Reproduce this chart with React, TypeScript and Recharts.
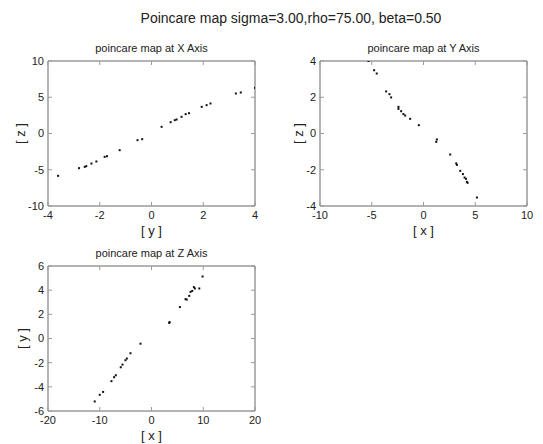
import React from 'react';
import { ScatterChart, Scatter, XAxis, YAxis, Label, ReferenceArea } from 'recharts';

const MAIN_TITLE = 'Poincare map sigma=3.00,rho=75.00, beta=0.50';

// poincare map at X Axis: y (horizontal) vs z (vertical)
const xMapY = [-3.61, -2.80, -2.58, -2.52, -2.32, -2.13, -1.81, -1.72, -1.23, -0.54, -0.36, 0.39, 0.74, 0.90, 0.97, 1.16, 1.32, 1.45, 1.94, 2.13, 2.28, 3.26, 3.45, 4.0];
const xMapZ = [-5.84, -4.78, -4.6, -4.5, -4.14, -3.86, -3.22, -3.13, -2.30, -0.92, -0.78, 0.92, 1.56, 1.84, 1.93, 2.30, 2.67, 2.80, 3.68, 3.91, 4.14, 5.52, 5.66, 6.3];

// poincare map at Y Axis: x (horizontal) vs z (vertical)
const yMapX = [-5.32, -4.77, -4.52, -3.61, -3.29, -3.13, -2.42, -2.42, -2.16, -1.94, -1.77, -1.29, -0.45, 1.29, 1.23, 2.58, 3.16, 3.23, 3.55, 3.81, 3.97, 4.10, 4.19, 4.26, 5.16];
const yMapZ = [4.0, 3.49, 3.31, 2.32, 2.17, 1.99, 1.47, 1.36, 1.23, 1.07, 0.99, 0.81, 0.46, -0.33, -0.46, -1.16, -1.65, -1.73, -2.06, -2.24, -2.43, -2.50, -2.67, -2.72, -3.53];

// poincare map at Z Axis: x (horizontal) vs y (vertical)
const zMapX = [-10.97, -10.0, -9.35, -7.74, -7.23, -6.90, -5.94, -5.61, -5.03, -4.77, -4.06, -2.13, 3.42, 3.50, 5.48, 6.58, 6.80, 7.29, 7.55, 7.87, 8.19, 8.39, 9.23, 9.87];
const zMapY = [-5.21, -4.66, -4.42, -3.53, -3.20, -3.04, -2.38, -2.16, -1.80, -1.66, -1.22, -0.43, 1.29, 1.36, 2.60, 3.26, 3.22, 3.53, 3.86, 3.94, 4.25, 4.14, 4.14, 5.13];

const ticksX1 = [-4, -2, 0, 2, 4];
const ticksY1 = [-10, -5, 0, 5, 10];
const ticksX2 = [-10, -5, 0, 5, 10];
const ticksY2 = [-4, -2, 0, 2, 4];
const ticksX3 = [-20, -10, 0, 10, 20];
const ticksY3 = [-6, -4, -2, 0, 2, 4, 6];

const BOX = '#9a9a9a';
const TEXT = '#222';

const Dot = (props: any) => {
  const { cx, cy } = props;
  if (cx == null || cy == null) return null;
  return <rect x={cx - 1} y={cy - 1} width={2} height={2} fill="#111" />;
};

const XLabel = ({ viewBox, value, dy }: any) => {
  const vb = viewBox || {};
  return (
    <text x={vb.x + vb.width / 2} y={vb.y + dy} textAnchor="middle" dominantBaseline="central" fontSize={13} fill={TEXT}>
      {value}
    </text>
  );
};

const YLabel = ({ viewBox, value, cx }: any) => {
  const vb = viewBox || {};
  const y = vb.y + vb.height / 2;
  return (
    <text x={cx} y={y} textAnchor="middle" dominantBaseline="central" fontSize={13} fill={TEXT} transform={`rotate(-90 ${cx} ${y})`}>
      {value}
    </text>
  );
};

const blank = () => '';

function Subplot({ left, top, width, height, yAxisWidth, rightMargin, xAxisHeight, title, xLabel, yLabel, xs, ys, xTicks, yTicks, yLabelX }: any) {
  const data = xs.map((x: number, i: number) => ({ x, y: ys[i] }));
  const xDomain = [xTicks[0], xTicks[xTicks.length - 1]];
  const yDomain = [yTicks[0], yTicks[yTicks.length - 1]];
  const tickStyle = { fontSize: 11, fill: TEXT };
  return (
    <div style={{ position: 'absolute', left, top, width, height }}>
      <div style={{ position: 'absolute', left: yAxisWidth, width: width - yAxisWidth - rightMargin, top: 2, textAlign: 'center', fontSize: 11, color: TEXT }}>
        {title}
      </div>
      <ScatterChart width={width} height={height} margin={{ top: 20, right: rightMargin - 1, left: 0, bottom: 0 }}>
        <XAxis xAxisId="b" type="number" dataKey="x" domain={xDomain} ticks={xTicks} allowDataOverflow height={xAxisHeight}
          stroke={BOX} tickSize={-4} tickMargin={9} tick={tickStyle} interval={0}>
          <Label content={<XLabel value={xLabel} dy={24} />} />
        </XAxis>
        <XAxis xAxisId="t" orientation="top" type="number" dataKey="x" domain={xDomain} ticks={xTicks} allowDataOverflow height={1}
          stroke={BOX} tickSize={-4} tickFormatter={blank} interval={0} />
        <YAxis yAxisId="l" type="number" dataKey="y" domain={yDomain} ticks={yTicks} allowDataOverflow width={yAxisWidth}
          stroke={BOX} tickSize={-4} tickMargin={8} tick={tickStyle} interval={0}>
          <Label content={<YLabel value={yLabel} cx={yLabelX} />} />
        </YAxis>
        <YAxis yAxisId="r" orientation="right" type="number" dataKey="y" domain={yDomain} ticks={yTicks} allowDataOverflow width={1}
          stroke={BOX} tickSize={-4} tickFormatter={blank} interval={0} />
        <ReferenceArea xAxisId="b" yAxisId="l" x1={xDomain[0]} x2={xDomain[1]} y1={yDomain[0]} y2={yDomain[1]}
          fill="none" stroke={BOX} strokeOpacity={1} fillOpacity={0} />
        <Scatter xAxisId="b" yAxisId="l" data={data} shape={<Dot />} isAnimationActive={false} />
        <Scatter xAxisId="t" yAxisId="r" data={data} shape={() => null} isAnimationActive={false} />
      </ScatterChart>
    </div>
  );
}

export default function App() {
  return (
    <div style={{ position: 'absolute', left: 0, top: 0, width: 543, height: 444, background: '#fff', overflow: 'hidden', fontFamily: '"Liberation Sans", Arial, sans-serif' }}>
      <div style={{ position: 'absolute', left: 0, top: 10, width: 582, textAlign: 'center', fontSize: 14, color: TEXT }}>
        {MAIN_TITLE}
      </div>
      <Subplot left={0} top={40} width={270} height={200} yAxisWidth={48} rightMargin={15} xAxisHeight={34}
        title="poincare map at X Axis" xLabel="[ y ]" yLabel="[ z ]" xs={xMapY} ys={xMapZ}
        xTicks={ticksX1} yTicks={ticksY1} yLabelX={20} />
      <Subplot left={270} top={40} width={273} height={200} yAxisWidth={50} rightMargin={16} xAxisHeight={34}
        title="poincare map at Y Axis" xLabel="[ x ]" yLabel="[ z ]" xs={yMapX} ys={yMapZ}
        xTicks={ticksX2} yTicks={ticksY2} yLabelX={28} />
      <Subplot left={0} top={245} width={270} height={198} yAxisWidth={48} rightMargin={15} xAxisHeight={32}
        title="poincare map at Z Axis" xLabel="[ x ]" yLabel="[ y ]" xs={zMapX} ys={zMapY}
        xTicks={ticksX3} yTicks={ticksY3} yLabelX={22} />
    </div>
  );
}
